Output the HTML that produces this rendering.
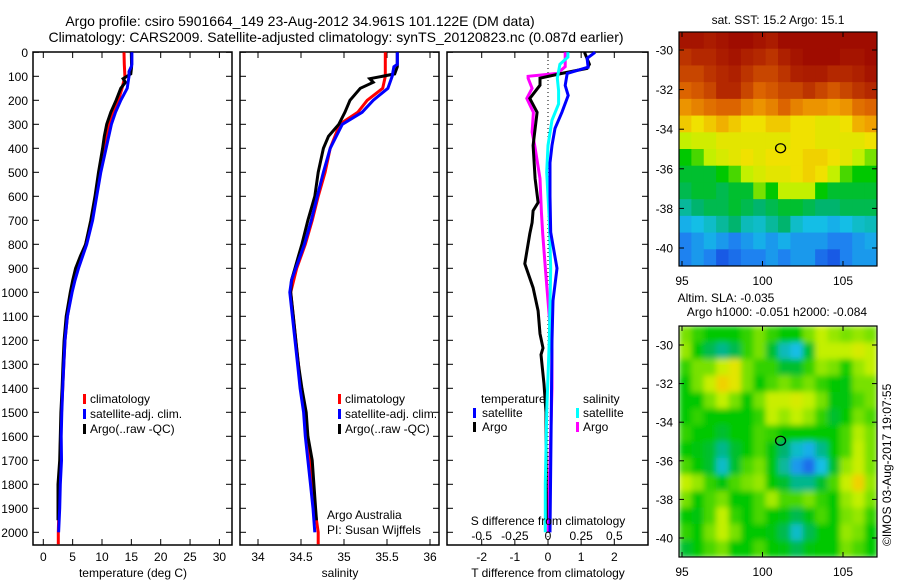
<!DOCTYPE html>
<html><head><meta charset="utf-8"><title>Argo profile</title>
<style>
html,body{margin:0;padding:0;background:#fff;}
svg{display:block;font-family:"Liberation Sans",sans-serif;}
text{fill:#000;}
</style></head>
<body>
<svg id="root" width="900" height="580" viewBox="0 0 900 580" xmlns="http://www.w3.org/2000/svg">
<defs>
<filter id="blur1" x="0" y="0" width="100%" height="100%"><feGaussianBlur stdDeviation="3"/></filter>
<clipPath id="clipSST"><rect x="679" y="32" width="198" height="234"/></clipPath>
<clipPath id="clipSLA"><rect x="679" y="326" width="198" height="231"/></clipPath>
</defs>
<text x="300" y="26" font-size="14" text-anchor="middle">Argo profile: csiro 5901664_149 23-Aug-2012 34.961S 101.122E (DM data)</text>
<text x="336" y="42" font-size="14" text-anchor="middle">Climatology: CARS2009. Satellite-adjusted climatology: synTS_20120823.nc (0.087d earlier)</text>
<text x="778" y="24" font-size="12" text-anchor="middle">sat. SST: 15.2 Argo: 15.1</text>
<text x="726" y="302" font-size="12" text-anchor="middle">Altim. SLA: -0.035</text>
<text x="777" y="316" font-size="12" text-anchor="middle">Argo h1000: -0.051 h2000: -0.084</text>
<text x="0" y="0" font-size="12" transform="translate(891,546) rotate(-90)">©IMOS 03-Aug-2017 19:07:55</text>
<g id="g"></g>
</svg>
<script>
// ---- depth grids ----
const depthsClim = [0,50,100,150,200,250,300,400,500,600,700,800,900,1000,1100,1200,1300,1400,1500,1600,1700,1800,1900,2000,2050];
const tempClim = [13.75,13.8,13.9,13.4,12.8,12.0,11.2,10.4,9.6,8.9,8.2,7.2,5.9,4.8,4.1,3.7,3.5,3.3,3.1,2.95,2.85,2.75,2.65,2.56,2.56];
const salClim = [35.48,35.48,35.48,35.45,35.27,35.16,34.95,34.84,34.78,34.70,34.63,34.55,34.45,34.38,34.41,34.44,34.47,34.50,34.55,34.57,34.60,34.63,34.66,34.70,34.70];
const depthsSat = [0,50,60,80,100,150,200,250,300,400,500,600,700,800,900,950,1000,1100,1200,1300,1400,1500,1600,1700,1800,1900,2000];
const tempSat = [15.1,15.1,15.0,14.6,14.6,14.3,13.2,12.3,11.6,10.7,9.8,9.1,8.4,7.4,6.0,5.4,4.9,4.1,3.7,3.5,3.3,3.15,3.05,3.1,2.9,2.8,2.6];
const salSat = [35.62,35.62,35.58,35.57,35.56,35.51,35.34,35.21,34.98,34.84,34.76,34.69,34.62,34.54,34.44,34.39,34.37,34.40,34.43,34.46,34.49,34.53,34.55,34.58,34.61,34.64,34.66];
const depthsArgo = [0,60,90,110,125,150,200,250,300,350,400,500,600,700,800,850,900,950,1000,1100,1200,1300,1400,1500,1600,1700,1800,1900,1950];
const tempArgo = [15.0,15.05,14.9,13.6,14.0,13.2,12.4,11.5,10.8,10.4,10.1,9.4,8.8,8.1,7.2,6.3,5.5,5.0,4.6,3.9,3.55,3.35,3.2,3.0,2.9,2.8,2.5,2.5,2.5];
const salArgo = [35.62,35.62,35.59,35.30,35.34,35.19,35.07,35.01,34.94,34.82,34.76,34.70,34.66,34.58,34.51,34.47,34.43,34.39,34.38,34.41,34.44,34.47,34.51,34.56,34.58,34.63,34.65,34.67,34.68];
// ---- difference profiles ----
const depthsDT = [0,25,62,88,138,180,250,317,388,460,600,750,900,1035,1200,1500,2000];
const tDiffSat = [1.42,1.18,1.21,0.58,0.52,0.61,0.42,0.21,0.12,0.06,0.06,0.08,0.27,0.15,0.12,0.10,0.06];
const depthsDTA = [0,50,67,88,108,137,192,250,388,526,626,660,710,756,881,981,1077,1173,1232,1260,1382,1500,1950];
const tDiffArgo = [1.1,1.25,1.18,0.42,-0.24,-0.24,-0.55,-0.33,-0.45,-0.39,-0.30,-0.45,-0.48,-0.55,-0.70,-0.45,-0.30,-0.24,-0.15,-0.21,-0.12,-0.06,-0.05];
const depthsDS = [0,20,50,108,160,215,283,388,500,700,900,1200,1500,1800,2000];
const sDiffSat = [0.15,0.15,0.09,0.07,0.08,0.08,0.03,0.0,-0.01,0.01,0.02,0.01,-0.01,-0.02,-0.02];
const depthsDSA = [0,60,88,100,108,150,192,250,333,388,526,665,756,897,1035,1245,1400,1600,1800,2000];
const sDiffArgo = [0.13,0.13,0.07,-0.15,-0.15,-0.12,-0.16,-0.11,-0.12,-0.10,-0.06,-0.05,-0.04,-0.02,0.0,0.03,0.03,0.02,0.01,0.0];
// ---- tick labels ----
const depthTicks = [0,100,200,300,400,500,600,700,800,900,1000,1100,1200,1300,1400,1500,1600,1700,1800,1900,2000];
const tempTicks = [0,5,10,15,20,25,30];
const salTicks = [34,34.5,35,35.5,36];
const salTickLabels = ['34','34.5','35','35.5','36'];
const tDiffTicks = [-2,-1,0,1,2];
const sDiffTicks = [-0.5,-0.25,0,0.25,0.5];
const sDiffTickLabels = ['-0.5','-0.25','0','0.25','0.5'];
const lonTicks = [95,100,105];
const latTicks = [-30,-32,-34,-36,-38,-40];
// ---- map grids (colour index 0..1) ----
const sstGrid = [
[.95,.95,.93,.95,.97,.97,.95,.93,.97,.97,.97,.97,.97,.97,.97,.97],
[.88,.9,.9,.93,.95,.92,.9,.88,.92,.95,.97,.97,.97,.95,.95,.97],
[.85,.85,.88,.9,.92,.88,.85,.85,.88,.92,.93,.93,.9,.9,.92,.95],
[.8,.82,.85,.9,.9,.85,.8,.82,.85,.85,.88,.85,.82,.85,.88,.9],
[.72,.75,.78,.8,.8,.75,.72,.75,.8,.75,.72,.72,.7,.72,.78,.8],
[.65,.62,.65,.68,.65,.62,.62,.65,.65,.62,.62,.6,.6,.62,.68,.7],
[.55,.57,.57,.6,.6,.6,.6,.6,.6,.62,.62,.6,.6,.6,.6,.62],
[.45,.48,.55,.58,.6,.62,.6,.62,.62,.62,.64,.64,.62,.6,.55,.5],
[.42,.42,.42,.45,.48,.55,.58,.6,.6,.62,.64,.62,.55,.48,.45,.45],
[.4,.42,.42,.4,.42,.42,.5,.45,.55,.55,.55,.45,.42,.42,.42,.42],
[.35,.38,.4,.4,.42,.4,.38,.4,.42,.42,.4,.38,.38,.4,.4,.4],
[.28,.3,.32,.35,.38,.33,.32,.35,.38,.32,.3,.3,.28,.3,.32,.33],
[.22,.25,.28,.25,.22,.25,.28,.25,.28,.25,.25,.25,.22,.22,.25,.27],
[.22,.25,.22,.18,.2,.22,.22,.25,.22,.25,.25,.2,.18,.22,.25,.25]];
const slaGrid = [
[.5,.47,.45,.45,.45,.47,.5,.47,.45,.45,.5,.55,.52,.5,.52,.5],
[.52,.45,.4,.36,.4,.47,.5,.42,.33,.3,.42,.55,.55,.55,.58,.55],
[.47,.5,.5,.56,.6,.5,.47,.47,.42,.42,.47,.52,.5,.46,.52,.55],
[.45,.5,.56,.64,.6,.5,.45,.48,.5,.48,.5,.47,.45,.44,.5,.5],
[.45,.45,.5,.55,.5,.45,.5,.56,.56,.58,.55,.5,.44,.44,.48,.5],
[.45,.47,.45,.45,.45,.45,.47,.55,.52,.55,.52,.47,.42,.45,.5,.48],
[.47,.45,.45,.42,.45,.45,.48,.47,.45,.45,.45,.45,.45,.48,.54,.5],
[.45,.44,.42,.36,.42,.45,.48,.44,.38,.32,.28,.36,.45,.48,.55,.5],
[.48,.45,.42,.32,.42,.48,.5,.44,.35,.25,.2,.3,.42,.52,.56,.5],
[.55,.52,.47,.44,.48,.5,.52,.45,.42,.36,.36,.42,.48,.56,.64,.52],
[.5,.45,.48,.5,.45,.45,.48,.53,.48,.48,.5,.47,.45,.52,.55,.5],
[.45,.44,.48,.55,.47,.45,.48,.45,.44,.4,.44,.48,.45,.5,.52,.47],
[.47,.45,.5,.55,.5,.45,.45,.44,.4,.32,.4,.45,.45,.52,.5,.45],
[.42,.45,.48,.5,.45,.45,.48,.45,.44,.4,.44,.45,.45,.5,.48,.45]];
const argoLon = 101.122;
const argoLat = -34.961;

const NS='http://www.w3.org/2000/svg';
const G=document.getElementById('g');
function mk(tag,attrs,parent){const e=document.createElementNS(NS,tag);for(const k in attrs)e.setAttribute(k,attrs[k]);(parent||G).appendChild(e);return e;}

// scales
const yD=d=>52.3+d*0.24;
const xT=t=>43.3+t*5.87;
const xS=s=>258+(s-34)*86;
const xTD=t=>548+t*33.15;
const xSD=s=>548+s*132.6;

function frame(x0,x1,name){
  const r=mk('rect',{x:x0,y:52,width:x1-x0,height:493,fill:'none',stroke:'#000','stroke-width':1.5});
  
  
  depthTicks.forEach(d=>{
    const t1=mk('line',{x1:x0,x2:x0+6,y1:yD(d),y2:yD(d),stroke:'#000'});
    
    
    const t2=mk('line',{x1:x1-6,x2:x1,y1:yD(d),y2:yD(d),stroke:'#000'});
    
    
  });
}
function xticks(vals,labels,fx,name){
  vals.forEach((v,i)=>{
    const x=fx(v);
    const a=mk('line',{x1:x,x2:x,y1:52,y2:58,stroke:'#000'});
    
    
    const b=mk('line',{x1:x,x2:x,y1:539,y2:545,stroke:'#000'});
    
    
    const t=mk('text',{x:x,y:561,'font-size':12,'text-anchor':'middle'});
    t.textContent=labels[i];
    
    
  });
}
function line(ds,vs,fx,color,name,w){
  const pts=ds.map((d,i)=>fx(vs[i]).toFixed(1)+','+yD(d).toFixed(1)).join(' ');
  const p=mk('polyline',{points:pts,fill:'none',stroke:color,'stroke-width':w||3,'stroke-linejoin':'miter'});
  
  
}
function txt(x,y,s,name,anchor,size){
  const t=mk('text',{x:x,y:y,'font-size':size||12,'text-anchor':anchor||'start'});
  t.textContent=s;
  
  
  return t;
}
function marker(x,y,color,name){
  const r=mk('rect',{x:x,y:y-10,width:3,height:10,fill:color});
  
  
}

// depth labels
depthTicks.forEach(d=>{txt(28,yD(d)+4.5,String(d),'depth-tick-label','end');});

// panel 1 temperature
frame(33,232,'temperature-panel');
xticks(tempTicks,tempTicks.map(String),xT,'temperature');
line(depthsClim,tempClim,xT,'#ff0000','temp-climatology-line');
line(depthsArgo,tempArgo,xT,'#000000','temp-argo-line');
line(depthsSat,tempSat,xT,'#0000ff','temp-satellite-line');
txt(133,577,'temperature (deg C)','temperature-axis-title','middle');
marker(83,404,'#ff0000','legend-climatology-marker');txt(90,403,'climatology','legend-climatology');
marker(83,419,'#0000ff','legend-satellite-marker');txt(90,418,'satellite-adj. clim.','legend-satellite-adj');
marker(83,434,'#000000','legend-argo-marker');txt(90,433,'Argo(..raw -QC)','legend-argo');

// panel 2 salinity
frame(240,439,'salinity-panel');
xticks(salTicks,salTickLabels,xS,'salinity');
line(depthsClim,salClim,xS,'#ff0000','sal-climatology-line');
line(depthsArgo,salArgo,xS,'#000000','sal-argo-line');
line(depthsSat,salSat,xS,'#0000ff','sal-satellite-line');
txt(340,577,'salinity','salinity-axis-title','middle');
marker(338,404,'#ff0000','legend2-climatology-marker');txt(345,403,'climatology','legend2-climatology');
marker(338,419,'#0000ff','legend2-satellite-marker');txt(345,418,'satellite-adj. clim.','legend2-satellite-adj');
marker(338,434,'#000000','legend2-argo-marker');txt(345,433,'Argo(..raw -QC)','legend2-argo');
txt(327,519,'Argo Australia','float-owner-label');
txt(327,534,'PI: Susan Wijffels','pi-label');

// panel 3 differences
frame(447,648,'difference-panel');
xticks(tDiffTicks,tDiffTicks.map(String),xTD,'t-diff');
const zl=mk('line',{x1:548,x2:548,y1:52,y2:545,stroke:'#000','stroke-dasharray':'1,3'});


line(depthsDSA,sDiffArgo,xSD,'#ff00ff','s-diff-argo-line');
line(depthsDTA,tDiffArgo,xTD,'#000000','t-diff-argo-line');
line(depthsDS,sDiffSat,xSD,'#00ffff','s-diff-satellite-line');
line(depthsDT,tDiffSat,xTD,'#0000ff','t-diff-satellite-line');
sDiffTicks.forEach((v,i)=>{txt(xSD(v),540,sDiffTickLabels[i],'s-diff-tick-label','middle');});
txt(548,525,'S difference from climatology','s-diff-axis-title','middle');
txt(548,577,'T difference from climatology','t-diff-axis-title','middle');
txt(481,403,'temperature','legend-temperature-heading');
marker(473,418,'#0000ff','legend-t-satellite-marker');txt(482,417,'satellite','legend-t-satellite');
marker(473,432,'#000000','legend-t-argo-marker');txt(482,431,'Argo','legend-t-argo');
txt(583,403,'salinity','legend-salinity-heading');
marker(576,418,'#00ffff','legend-s-satellite-marker');txt(583,417,'satellite','legend-s-satellite');
marker(576,432,'#ff00ff','legend-s-argo-marker');txt(583,431,'Argo','legend-s-argo');

// colour map
const stops=[[0.15,[20,60,220]],[0.22,[30,130,240]],[0.3,[20,190,230]],[0.38,[0,180,110]],[0.45,[0,200,0]],[0.5,[120,225,0]],[0.55,[195,240,0]],[0.62,[240,225,0]],[0.7,[240,160,0]],[0.8,[220,100,0]],[0.9,[180,40,0]],[1.0,[150,0,0]]];
function cmap(v){
  if(v<=stops[0][0])return 'rgb('+stops[0][1]+')';
  for(let i=1;i<stops.length;i++){if(v<=stops[i][0]){const a=stops[i-1],b=stops[i];const f=(v-a[0])/(b[0]-a[0]);return 'rgb('+a[1].map((c,k)=>Math.round(c+(b[1][k]-c)*f)).join(',')+')';}}
  return 'rgb('+stops[stops.length-1][1]+')';
}
function map(grid,x0,y0,w,h,lat30y,perDeg,clip,name,blur){
  const gg=mk('g',{'clip-path':'url(#'+clip+')'});
  
  
  const inner=mk('g',blur?{filter:'url(#blur1)'}:{},gg);
  const rows=grid.length,cols=grid[0].length;
  const cw=w/cols,ch=h/rows;
  if(blur){const bg=mk('rect',{x:x0,y:y0,width:w,height:h,fill:cmap(0.46)},inner);}
  grid.forEach((row,r)=>row.forEach((v,c)=>{
    const cell=mk('rect',{x:(x0+c*cw).toFixed(2),y:(y0+r*ch).toFixed(2),width:(cw+0.6).toFixed(2),height:(ch+0.6).toFixed(2),fill:cmap(v)},inner);
    
    
  }));
  const fr=mk('rect',{x:x0,y:y0,width:w,height:h,fill:'none',stroke:'#000','stroke-width':1.2});
  
  
  const lonX=l=>682+(l-95)*16.1;
  const latY=l=>lat30y+(-30-l)*perDeg;
  lonTicks.forEach(l=>{
    const x=lonX(l);
    const a=mk('line',{x1:x,x2:x,y1:y0,y2:y0+5,stroke:'#000'});
    
    
    const b=mk('line',{x1:x,x2:x,y1:y0+h-5,y2:y0+h,stroke:'#000'});
    
    
    txt(x,y0+h+19,String(l),name+'-lon-label','middle');
  });
  latTicks.forEach(l=>{
    const y=latY(l);
    const a=mk('line',{x1:x0,x2:x0+5,y1:y,y2:y,stroke:'#000'});
    
    
    const b=mk('line',{x1:x0+w-5,x2:x0+w,y1:y,y2:y,stroke:'#000'});
    
    
    txt(673,y+4.5,String(l),name+'-lat-label','end');
  });
  const ci=mk('ellipse',{cx:lonX(argoLon),cy:latY(argoLat),rx:5,ry:4.5,fill:'none',stroke:'#000','stroke-width':1.3});
  
  
}
map(sstGrid,679,32,198,234,50,19.8,'clipSST','sst-map',false);
map(slaGrid,679,326,198,231,345,19.3,'clipSLA','sla-map',true);
</script>
</body></html>
